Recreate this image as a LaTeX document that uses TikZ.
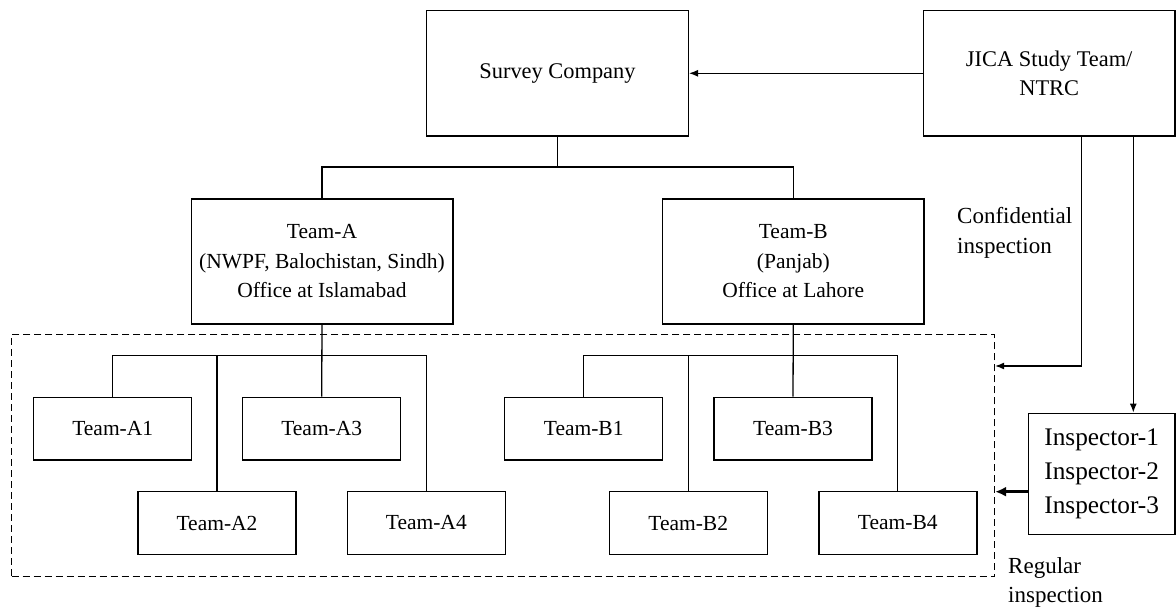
\documentclass[tikz,border=0pt]{standalone}
\usepackage{fontspec}
\setmainfont{Liberation Serif}
\usetikzlibrary{arrows.meta,positioning}
\tikzset{>={Latex[width=7pt,length=9pt]}}

\begin{document}
\begin{tikzpicture}[x=1pt,y=-1pt,
  box/.style={draw, line width=1.4pt, inner sep=0pt, align=center},
  bigbox/.style={box, minimum width=261.6pt, minimum height=125.3pt,
    font=\fontsize{22.4}{29.5}\selectfont},
  teambox/.style={box, minimum width=158pt, minimum height=62.7pt,
    font=\fontsize{21.5}{29}\selectfont},
  link/.style={line width=1.3pt},
  note/.style={inner sep=0pt, align=left, anchor=west,
    font=\fontsize{23}{29.5}\selectfont}]

  \useasboundingbox (0,0) rectangle (1176,609);

  \newcommand\RowA{428.7}
  \newcommand\RowB{523}

  %% top row
  \node[bigbox] (survey) at (557.5, 73.3) {Survey Company};
  \node[bigbox, minimum width=251.7pt] (jica) at (1049.2, 73.3) {JICA Study Team/\\NTRC};

  %% teams
  \node[bigbox, font=\fontsize{21.5}{29.5}\selectfont] (teamA) at (322, 261.5)
    {Team-A\\(NWPF, Balochistan, Sindh)\\Office at Islamabad};
  \node[bigbox, font=\fontsize{21.5}{29.5}\selectfont] (teamB) at (793.3, 261.5)
    {Team-B\\(Panjab)\\Office at Lahore};

  %% field teams
  \node[draw, line width=1.2pt, dash pattern=on 7pt off 4pt, inner sep=0pt,
    minimum width=982.8pt, minimum height=242pt] (field) at (503.1, 455.7) {};

  \node[teambox] (A1) at (112.7, \RowA) {Team-A1};
  \node[teambox] (A2) at (217, \RowB) {Team-A2};
  \node[teambox] (A3) at (321.7, \RowA) {Team-A3};
  \node[teambox] (A4) at (426.3, \RowB) {Team-A4};
  \node[teambox] (B1) at (583.7, \RowA) {Team-B1};
  \node[teambox] (B2) at (688.2, \RowB) {Team-B2};
  \node[teambox] (B3) at (793, \RowA) {Team-B3};
  \node[teambox] (B4) at (897.8, \RowB) {Team-B4};

  \node[box, minimum width=146.7pt, minimum height=121pt,
    font=\fontsize{25.3}{34}\selectfont] (insp) at (1101.7, 473.8)
    {Inspector-1\\Inspector-2\\Inspector-3};

  \node[note] (conf) at (957, 233) {Confidential\\inspection};
  \node[note] (reg) at (1008, 582.4) {Regular\\inspection};

  %% tree
  \coordinate (busTop) at (557.5, 167);
  \coordinate (busA) at (322, 355.7);
  \coordinate (busB) at (793, 355.7);

  \draw[link] (survey) -- (busTop);
  \draw[link] (teamA.north) |- (busTop) -| (teamB.north);

  \draw[link] (teamA.south) -- (A3.north);
  \draw[link] (A1.north) |- (busA) -| (A4.north);
  \draw[link] (A2.north) -- (A2.north |- busA);

  \draw[link] (teamB.south) -- (B3.north);
  \draw[link] (B1.north) |- (busB) -| (B4.north);
  \draw[link] (B2.north) -- (B2.north |- busB);

  %% inspections
  \draw[link,->] (jica) -- (survey);

  \coordinate (jicaL) at ([xshift=32.5pt]jica.south);
  \coordinate (jicaR) at ([xshift=84.1pt]jica.south);
  \coordinate (inspIn) at ([yshift=-17.9pt]insp.west);

  \draw[link,->] (jicaL) |- ([yshift=89.7pt]field.east);
  \draw[link,->] (jicaR) -- (jicaR |- insp.north);
  \draw[line width=2.6pt,-{Latex[width=10pt,length=11pt]}] (inspIn) -- (inspIn -| field.east);

\end{tikzpicture}
\end{document}
